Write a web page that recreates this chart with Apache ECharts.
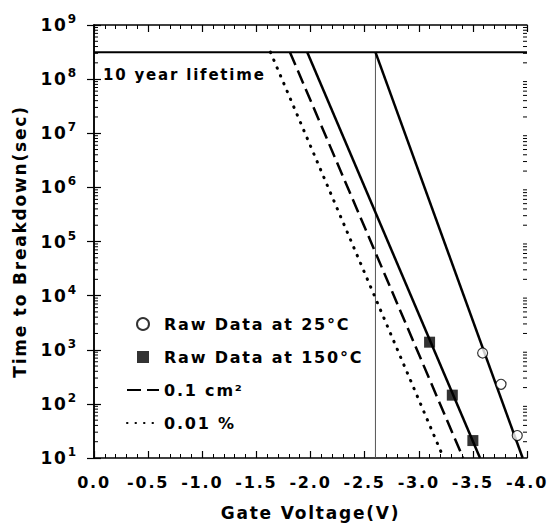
<!DOCTYPE html>
<html>
<head>
<meta charset="utf-8">
<script src="https://cdn.jsdelivr.net/npm/echarts@6/dist/echarts.min.js"></script>
<style>
  html, body { margin: 0; padding: 0; background: #fff; }
  #chart { width: 548px; height: 532px; }
  /* the scanned figure uses widely spaced lettering */
  #chart svg text { letter-spacing: 1.8px; }
</style>
</head>
<body>
<div id="chart"></div>
<script>
// 10 year lifetime (sec) and stress voltage
const lifetime = 3.15e8
const stressVoltage = -2.6

// raw data
const raw25X = [-3.59, -3.76, -3.91]
const raw25Y = [870, 230, 26]
const raw150X = [-3.10, -3.31, -3.50]
const raw150Y = [1380, 145, 21]

// fitted / extrapolated lines (end points)
const fit25X = [-2.6, -3.96]
const fit25Y = [3.15e8, 10]
const fit150X = [-1.97, -3.566]
const fit150Y = [3.15e8, 10]
const areaX = [-1.81, -3.41]
const areaY = [3.15e8, 10]
const pctX = [-1.63, -3.23]
const pctY = [3.15e8, 10]

// log minor ticks: 2..9 in every decade
const decades = [1e1, 1e2, 1e3, 1e4, 1e5, 1e6, 1e7, 1e8]
const minorSteps = [2, 3, 4, 5, 6, 7, 8, 9]

const font = 'DejaVu Sans'
const zip = (xs, ys) => xs.map((x, i) => [x, ys[i]])
const minorTicks = []
decades.forEach(d => minorSteps.forEach(k => minorTicks.push([0, d * k])))

const axisLine = { show: true, lineStyle: { color: '#000', width: 1.5 } }
const tick = { show: true, inside: true, length: 7, lineStyle: { color: '#000', width: 1.2 } }

const xBase = {
  type: 'value', min: -4, max: 0, interval: 0.5, inverse: true,
  axisLine: axisLine, axisTick: tick,
  minorTick: { show: true, splitNumber: 5, length: 4, lineStyle: { color: '#000', width: 1 } },
  splitLine: { show: false }
}
const yBase = {
  type: 'log', logBase: 10, min: 10, max: 1e9,
  axisLine: axisLine, axisTick: tick,
  splitLine: { show: false }
}

const chart = echarts.init(document.getElementById('chart'), null, { renderer: 'svg' })
chart.setOption({
  animation: false,
  grid: { left: 94, right: 21, top: 25, bottom: 74 },
  textStyle: { fontFamily: font },
  xAxis: [
    Object.assign({}, xBase, {
      position: 'bottom',
      name: 'Gate Voltage(V)', nameLocation: 'middle', nameGap: 46,
      nameTextStyle: { fontSize: 17, fontWeight: 'bold', color: '#000', fontFamily: font },
      axisLabel: {
        margin: 16, fontSize: 16, fontWeight: 'bold', color: '#000', fontFamily: font,
        formatter: v => v.toFixed(1)
      }
    }),
    Object.assign({}, xBase, { position: 'top', axisLabel: { show: false } })
  ],
  yAxis: [
    Object.assign({}, yBase, {
      position: 'left',
      name: 'Time to Breakdown(sec)', nameLocation: 'middle', nameGap: 66,
      nameTextStyle: { fontSize: 17, fontWeight: 'bold', color: '#000', fontFamily: font },
      axisLabel: {
        margin: 16, color: '#000',
        formatter: v => '{b|10}{s|' + Math.round(Math.log10(v)) + '}',
        rich: {
          b: { fontSize: 17, fontWeight: 'bold', fontFamily: font, color: '#000' },
          s: { fontSize: 12, fontWeight: 'bold', fontFamily: font, color: '#000', padding: [0, 0, 12, 2] }
        }
      }
    }),
    Object.assign({}, yBase, { position: 'right', axisLabel: { show: false } })
  ],
  legend: {
    orient: 'vertical', left: 121, top: 310,
    itemWidth: 32, itemHeight: 12, itemGap: 15,
    data: [
      { name: 'Raw Data at 25°C', icon: 'circle' },
      { name: 'Raw Data at 150°C', icon: 'path://M0,0L10,0L10,10L0,10Z' },
      { name: '0.1 cm²', itemStyle: { opacity: 0 } },
      { name: '0.01 %', itemStyle: { opacity: 0 } }
    ],
    textStyle: { fontSize: 16, lineHeight: 18, fontWeight: 'bold', color: '#000', fontFamily: font }
  },
  graphic: [{
    type: 'text', left: 103, top: 67,
    style: { text: '10 year lifetime', fontSize: 15, fontWeight: 'bold', fontFamily: font, fill: '#000' }
  }],
  series: [
    {
      type: 'custom', name: 'minor ticks', silent: true, clip: false,
      data: minorTicks,
      renderItem: (params, api) => {
        const l = api.coord([0, api.value(1)])
        const r = api.coord([-4, api.value(1)])
        return {
          type: 'group',
          children: [
            { type: 'line', shape: { x1: l[0], y1: l[1], x2: l[0] + 4, y2: l[1] }, style: { stroke: '#000', lineWidth: 1 } },
            { type: 'line', shape: { x1: r[0], y1: r[1], x2: r[0] - 4, y2: r[1] }, style: { stroke: '#000', lineWidth: 1 } }
          ]
        }
      }
    },
    {
      type: 'line', name: 'lifetime', data: [[0, lifetime], [-4, lifetime]],
      symbol: 'none', lineStyle: { color: '#000', width: 2 }, z: 3
    },
    {
      type: 'line', name: 'stress', data: [[stressVoltage, 10], [stressVoltage, lifetime]],
      symbol: 'none', lineStyle: { color: '#555', width: 1 }, z: 2
    },
    {
      type: 'line', name: 'fit25', data: zip(fit25X, fit25Y),
      symbol: 'none', lineStyle: { color: '#000', width: 2.5 }
    },
    {
      type: 'line', name: 'fit150', data: zip(fit150X, fit150Y),
      symbol: 'none', lineStyle: { color: '#000', width: 2.5 }
    },
    {
      type: 'line', name: '0.1 cm²', data: zip(areaX, areaY), color: '#000',
      symbol: 'none', lineStyle: { color: '#000', width: 2.5, type: [14, 6] }
    },
    {
      type: 'line', name: '0.01 %', data: zip(pctX, pctY), color: '#000',
      symbol: 'none', lineStyle: { color: '#000', width: 3, type: [0.5, 8], cap: 'round' }
    },
    {
      type: 'scatter', name: 'Raw Data at 25°C', data: zip(raw25X, raw25Y),
      symbol: 'circle', symbolSize: 10,
      itemStyle: { color: '#fff', borderColor: '#000', borderWidth: 1.2 }, z: 5
    },
    {
      type: 'scatter', name: 'Raw Data at 150°C', data: zip(raw150X, raw150Y),
      symbol: 'rect', symbolSize: 11,
      itemStyle: { color: '#000' }, z: 5
    }
  ]
})
</script>
</body>
</html>
